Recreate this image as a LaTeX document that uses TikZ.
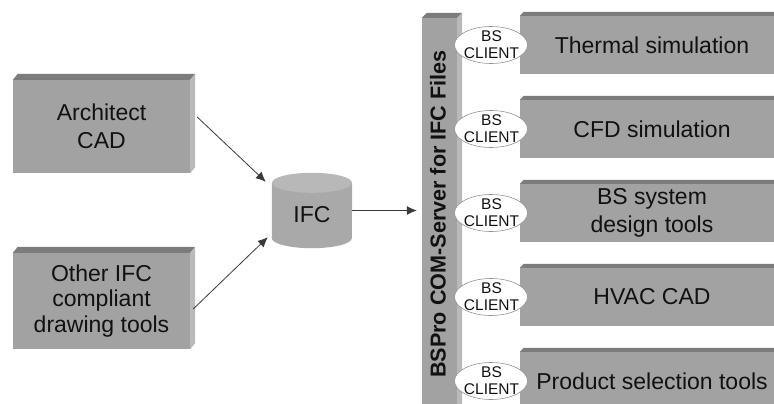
\documentclass[tikz,border=0pt]{standalone}
\usepackage{fontspec}
\setmainfont{Liberation Sans}
\usetikzlibrary{calc,arrows.meta,shapes.geometric}
\definecolor{face}{HTML}{A2A2A2}
\definecolor{topc}{HTML}{7C7C7C}
\definecolor{sidec}{HTML}{B9B9B9}
\definecolor{ink}{HTML}{111111}
\definecolor{wire}{HTML}{3A3A3A}
\definecolor{cylbody}{HTML}{A9A9A9}
\definecolor{cyltop}{HTML}{B8B8B8}
\newcommand\bevelbox[3]{%
 \fill[topc] (#1.north west) -- ++(#2pt,#3pt) -- ([shift={(#2pt,#3pt)}]#1.north east) -- (#1.north east) -- cycle;
 \fill[sidec] (#1.north east) -- ++(#2pt,#3pt) -- ([shift={(#2pt,#3pt)}]#1.south east) -- (#1.south east) -- cycle;}
\begin{document}
\begin{tikzpicture}[x=1pt,y=-1pt,
 box/.style={rectangle, fill=face, inner sep=0pt, text=ink, align=center, font=\fontsize{23}{28}\selectfont},
 client/.style={ellipse, draw=gray!85, line width=0.6pt, fill=white, minimum width=73pt, minimum height=37pt, inner sep=0pt},
 clienttext/.style={inner sep=0pt, align=center, text=ink, font=\fontsize{15.5}{17}\selectfont},
 arr/.style={draw=wire, line width=0.8pt, -{Latex[length=10pt,width=9pt]}}]
\useasboundingbox (0,0) rectangle (774,404);
\clip (0,0) rectangle (774,404);
\fill[white] (0,0) rectangle (774,404);

% left boxes
\node[box, minimum width=177pt, minimum height=93pt] (arch) at (101.5,126.5) {Architect\\CAD};
\bevelbox{arch}{5}{6}
\node[box, minimum width=177pt, minimum height=96pt, font=\fontsize{23}{25.5}\selectfont] (other) at (101.5,301) {Other IFC\\compliant\\drawing tools};
\bevelbox{other}{5}{6}

% IFC cylinder
\node[minimum width=80pt, minimum height=75pt, inner sep=0pt] (ifc) at (312,210.5) {};
\fill[cylbody] ([yshift=-10pt]ifc.north west) -- ([yshift=10pt]ifc.south west)
  arc[start angle=180, end angle=360, x radius=40pt, y radius=10pt]
  -- ([yshift=-10pt]ifc.north east) -- cycle;
\fill[cyltop] ([yshift=-10pt]ifc.north) ellipse[x radius=40pt, y radius=10pt];
\node[inner sep=0pt, text=ink, font=\fontsize{23}{23}\selectfont] (ifct) at ([yshift=-4pt]ifc.center) {IFC};

% server bar
\node[box, minimum width=35pt, minimum height=400pt] (bar) at (439.5,218) {};
\bevelbox{bar}{5}{5}
\node[rotate=90, inner sep=0pt, text=ink, font=\bfseries\fontsize{21.6}{22}\selectfont] (bart) at (438,214) {BSPro COM-Server for IFC Files};

% right boxes
\foreach \n/\c/\t in {th/45/{Thermal simulation}, cfd/129/{CFD simulation}, bss/213/{BS system\\design tools}, hvac/297/{HVAC CAD}, prod/381/{Product selection tools}}{
  \node[box, minimum width=264pt, minimum height=58pt] (\n) at (652,\c) {\t};
  \bevelbox{\n}{4}{4}
  \node[client] (\n-c) at (491,\c) {};
  \node[clienttext] (\n-ct) at (491.5,\c) {BS\\CLIENT};
}

% connectors
\draw[arr] ([shift={(7pt,9.5pt)}]arch.east) -- ([shift={(-6pt,-9pt)}]ifc.north west);
\draw[arr] ([shift={(3pt,-8pt)}]other.east) -- ([shift={(-4pt,11pt)}]ifc.south west);
\draw[arr, shorten >=5pt] (ifc.east) -- (ifc.east -| bar.west);
\end{tikzpicture}
\end{document}
